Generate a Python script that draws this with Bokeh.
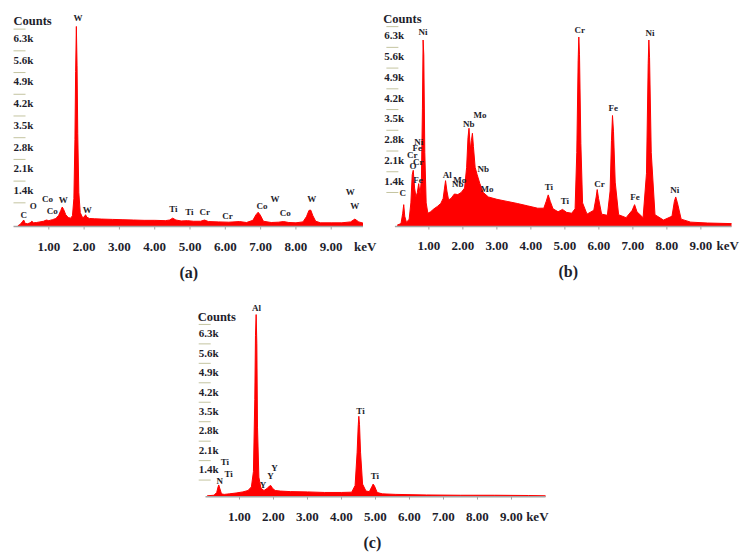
from bokeh.plotting import figure
from bokeh.models import FixedTicker, PrintfTickFormatter, Range1d, Spacer, Title
from bokeh.layouts import column, row
from bokeh.embed import file_html
from bokeh.resources import INLINE
from bokeh.core.properties import value

# ---------------- data ----------------
X_TICKS = [1, 2, 3, 4, 5, 6, 7, 8, 9]
X_UNIT = "keV"
Y_TICKS_K = [0.7, 1.4, 2.1, 2.8, 3.5, 4.2, 4.9, 5.6, 6.3]
Y_LABEL_VALUES = [1.4, 2.1, 2.8, 3.5, 4.2, 4.9, 5.6, 6.3]
Y_LABELS = ["1.4k", "2.1k", "2.8k", "3.5k", "4.2k", "4.9k", "5.6k", "6.3k"]
Y_TITLE = "Counts"

# panel (a): energy (keV) and counts (thousands)
energy_a = [0.12, 0.20, 0.26, 0.29, 0.33, 0.40, 0.47, 0.52, 0.57, 0.65,
            0.75, 0.85, 0.93, 1.00, 1.10, 1.20, 1.28, 1.34, 1.38, 1.42,
            1.48, 1.55, 1.62, 1.67, 1.71, 1.74, 1.76, 1.78, 1.80, 1.82,
            1.85, 1.89, 1.95, 2.00, 2.04, 2.08, 2.15, 2.3, 2.5, 2.8,
            3.1, 3.4, 3.7, 4.0, 4.3, 4.42, 4.51, 4.60, 4.75, 4.93,
            5.1, 5.3, 5.41, 5.52, 5.8, 6.1, 6.4, 6.6, 6.78, 6.87,
            6.93, 6.99, 7.08, 7.3, 7.5, 7.65, 7.8, 8.0, 8.2, 8.30,
            8.37, 8.42, 8.48, 8.56, 8.7, 9.0, 9.3, 9.55, 9.67, 9.78, 9.9]
counts_a = [0.02, 0.08, 0.17, 0.21, 0.10, 0.09, 0.12, 0.17, 0.12, 0.13,
            0.15, 0.17, 0.21, 0.19, 0.22, 0.26, 0.36, 0.52, 0.63, 0.55,
            0.38, 0.29, 0.27, 0.35, 0.9, 2.8, 5.0, 6.45, 5.2, 3.0,
            1.1, 0.45, 0.3, 0.3, 0.38, 0.3, 0.26, 0.25, 0.24, 0.23,
            0.22, 0.21, 0.2, 0.2, 0.19, 0.21, 0.27, 0.21, 0.18, 0.19,
            0.17, 0.17, 0.21, 0.16, 0.15, 0.14, 0.16, 0.13, 0.2, 0.38,
            0.46, 0.37, 0.17, 0.13, 0.14, 0.16, 0.13, 0.12, 0.15, 0.32,
            0.52, 0.53, 0.35, 0.17, 0.12, 0.12, 0.12, 0.15, 0.24, 0.15, 0.11]
peaks_a = ["C", "O", "Co", "Co", "W", "W", "W", "Ti", "Ti", "Cr", "Cr",
           "Co", "W", "Co", "W", "W", "W"]
peak_x_a = [0.29, 0.56, 0.96, 1.10, 1.41, 1.83, 2.09, 4.53, 4.98, 5.42, 6.06,
            7.04, 7.41, 7.70, 8.45, 9.54, 9.67]
peak_y_a = [0.37, 0.67, 0.90, 0.51, 0.85, 6.71, 0.54, 0.56, 0.46, 0.47, 0.35,
            0.67, 0.90, 0.43, 0.88, 1.10, 0.67]

# panel (b)
energy_b = [0.07, 0.18, 0.23, 0.26, 0.29, 0.34, 0.42, 0.47, 0.51, 0.54,
            0.58, 0.62, 0.66, 0.70, 0.74, 0.78, 0.81, 0.83, 0.85, 0.88,
            0.92, 0.97, 1.05, 1.15, 1.25, 1.35, 1.42, 1.46, 1.49, 1.53,
            1.58, 1.65, 1.75, 1.85, 1.95, 2.05, 2.11, 2.15, 2.18, 2.22,
            2.25, 2.28, 2.31, 2.36, 2.42, 2.50, 2.6, 2.75, 3.0, 3.3,
            3.6, 3.9, 4.2, 4.38, 4.45, 4.51, 4.57, 4.65, 4.8, 4.93,
            5.05, 5.2, 5.3, 5.35, 5.39, 5.41, 5.43, 5.47, 5.52, 5.65,
            5.85, 5.92, 5.95, 5.99, 6.08, 6.25, 6.33, 6.37, 6.40, 6.43,
            6.48, 6.58, 6.8, 6.98, 7.05, 7.12, 7.3, 7.40, 7.45, 7.47,
            7.49, 7.54, 7.65, 7.9, 8.15, 8.22, 8.26, 8.31, 8.42, 8.7,
            9.2, 9.9]
counts_b = [0.05, 0.1, 0.45, 0.74, 0.35, 0.14, 0.25, 0.8, 1.75, 1.9,
            1.3, 1.0, 1.15, 1.45, 1.1, 1.6, 4.0, 6.3, 5.8, 2.5,
            0.8, 0.45, 0.5, 0.6, 0.68, 0.78, 0.95, 1.3, 1.55, 1.2,
            0.9, 0.95, 1.1, 1.08, 1.15, 1.3, 2.0, 3.0, 3.32, 2.6,
            2.9, 3.15, 2.7, 2.0, 1.75, 1.45, 1.15, 1.0, 0.92, 0.85,
            0.78, 0.7, 0.62, 0.62, 0.85, 1.07, 0.85, 0.6, 0.5, 0.58,
            0.48, 0.45, 0.6, 2.5, 5.6, 6.4, 5.8, 2.8, 0.8, 0.42,
            0.55, 1.0, 1.25, 0.95, 0.42, 0.38, 1.2, 2.9, 3.75, 3.2,
            1.5, 0.4, 0.3, 0.55, 0.74, 0.5, 0.3, 1.8, 5.5, 6.3,
            5.7, 2.5, 0.4, 0.22, 0.35, 0.85, 1.0, 0.8, 0.25, 0.15,
            0.12, 0.1]
peaks_b = ["C", "O", "Cr", "Cr", "Fe", "Ni", "Fe", "Ni", "Al", "Mo", "Nb",
           "Nb", "Mo", "Nb", "Mo", "Ti", "Ti", "Cr", "Cr", "Fe", "Fe", "Ni", "Ni"]
peak_x_b = [0.23, 0.53, 0.51, 0.69, 0.66, 0.70, 0.68, 0.83, 1.54, 1.91, 1.85,
            2.17, 2.50, 2.60, 2.71, 4.53, 5.00, 5.44, 6.02, 6.42, 7.06, 7.50, 8.23]
peak_y_b = [1.12, 2.03, 2.43, 2.19, 2.64, 2.86, 1.56, 6.58, 1.73, 1.56, 1.43,
            3.46, 3.77, 1.95, 1.28, 1.34, 0.88, 6.64, 1.45, 4.01, 0.99, 6.53, 1.25]

# panel (c)
energy_c = [0.05, 0.25, 0.33, 0.37, 0.39, 0.42, 0.47, 0.55, 0.7, 0.9,
            1.1, 1.25, 1.35, 1.41, 1.45, 1.47, 1.49, 1.51, 1.53, 1.57,
            1.63, 1.72, 1.82, 1.88, 1.92, 1.97, 2.05, 2.2, 2.5, 3.0,
            3.5, 4.0, 4.3, 4.4, 4.46, 4.49, 4.51, 4.53, 4.56, 4.62,
            4.72, 4.82, 4.89, 4.93, 4.97, 5.05, 5.2, 5.6, 6.5, 7.5,
            8.5, 9.5, 10.0]
counts_c = [0.03, 0.05, 0.15, 0.35, 0.42, 0.3, 0.1, 0.08, 0.1, 0.13,
            0.17, 0.22, 0.35, 0.9, 3.5, 5.8, 6.55, 5.5, 2.5, 0.7,
            0.3, 0.22, 0.3, 0.38, 0.4, 0.3, 0.22, 0.2, 0.18, 0.17,
            0.15, 0.15, 0.16, 0.4, 1.6, 2.5, 2.89, 2.6, 1.6, 0.45,
            0.2, 0.18, 0.35, 0.45, 0.38, 0.15, 0.1, 0.08, 0.06, 0.05,
            0.05, 0.04, 0.03]
peaks_c = ["Al", "Ti", "Ti", "N", "Ti", "Ti", "Y", "Y", "Y"]
peak_x_c = [1.50, 4.56, 4.98, 0.42, 0.57, 0.68, 1.69, 1.91, 2.03]
peak_y_c = [6.78, 3.09, 0.74, 0.57, 1.24, 0.82, 0.43, 0.74, 1.03]

# ---------------- styling ----------------
FONT = "Liberation Serif"
INK = "#1e1e2c"
RED = "#ff0000"
TICK_COL = "#c4c4a0"
AXIS_COL = "#a4a4a4"


def make_panel(energy, counts, peaks, px, py, tag, st):
    W, H, fh = st["w"], st["h"], st["frame_h"]
    kev_px, k_px = st["kev_px"], st["k_px"]
    x0 = st["x_start"]
    y0 = -st["below_px"] / k_px
    p = figure(width=W, height=H, output_backend="svg", toolbar_location=None,
               y_axis_type=None,
               x_range=Range1d(x0, x0 + W / kev_px),
               y_range=Range1d(y0, y0 + fh / k_px),
               min_border_left=0, min_border_right=0, min_border_top=0,
               min_border_bottom=H - fh)
    p.outline_line_color = None
    p.grid.visible = False
    p.background_fill_color = "white"
    p.border_fill_color = "white"

    ax = p.xaxis[0]
    ax.ticker = FixedTicker(ticks=X_TICKS + [st["unit_at"]])
    ax.formatter = PrintfTickFormatter(format="%.2f")
    ax.major_label_overrides = {st["unit_at"]: X_UNIT}
    ax.axis_line_color = None
    ax.major_tick_line_color = None
    ax.minor_tick_line_color = None
    ax.major_label_standoff = st["standoff"]
    ax.major_label_text_font = FONT
    ax.major_label_text_font_style = "bold"
    ax.major_label_text_font_size = "13px"
    ax.major_label_text_color = INK

    # spectrum
    p.varea(x=energy, y1=0, y2=counts, fill_color=RED)
    p.line(x=energy, y=counts, line_color=RED, line_width=1)
    # axis base line and small tick notches
    p.line(x=[0, energy[-1]], y=[0, 0], line_color=AXIS_COL, line_width=1.5)
    p.segment(x0=X_TICKS, y0=[0] * len(X_TICKS), x1=X_TICKS,
              y1=[-3 / k_px] * len(X_TICKS), line_color=AXIS_COL, line_width=1)

    # y tick marks & labels
    shift = st["block_px"] / k_px
    tx = st["tick_x"]
    tlen = 12 / kev_px
    ty = [v + shift for v in Y_TICKS_K]
    p.segment(x0=[tx] * len(ty), y0=ty, x1=[tx + tlen] * len(ty), y1=ty,
              line_color=TICK_COL, line_width=1)
    ly = [v + shift - 9 / k_px for v in Y_LABEL_VALUES]
    p.text(x=[st["label_x"]] * len(ly), y=ly, text=Y_LABELS,
           text_font=value(FONT), text_font_style="bold", text_font_size="11px",
           text_color=INK, text_align="left", text_baseline="middle")
    p.text(x=[st["counts_x"]], y=[Y_LABEL_VALUES[-1] + shift + 8 / k_px], text=[Y_TITLE],
           text_font=value(FONT), text_font_style="bold", text_font_size="12.5px",
           text_color=INK, text_align="left", text_baseline="middle")

    # element labels
    p.text(x=px, y=py, text=peaks, text_font=value(FONT), text_font_style="bold",
           text_font_size="9px", text_color=INK, text_align="center",
           text_baseline="middle")

    p.add_layout(Title(text=tag, align="left", offset=st["tag_off"],
                       standoff=st["tag_standoff"], text_font=FONT,
                       text_font_style="bold", text_font_size="16px",
                       text_color=INK), "below")
    return p


style_a = dict(w=370, h=277, frame_h=224, kev_px=35.3, k_px=31.3, x_start=-0.142,
               below_px=4, block_px=2, tick_x=0.0, label_x=0.0, counts_x=0.0,
               unit_at=9.96, standoff=2, tag_off=171, tag_standoff=10)
style_b = dict(w=368, h=277, frame_h=226, kev_px=34.0, k_px=30.15, x_start=-0.482,
               below_px=4, block_px=13.6, tick_x=-0.25, label_x=-0.31, counts_x=-0.34,
               unit_at=9.79, standoff=1, tag_off=180, tag_standoff=10)
style_c = dict(w=370, h=270, frame_h=222, kev_px=34.0, k_px=28.7, x_start=-0.441,
               below_px=4, block_px=-3, tick_x=-0.2, label_x=-0.2, counts_x=-0.23,
               unit_at=9.76, standoff=2, tag_off=173, tag_standoff=10)

pa = make_panel(energy_a, counts_a, peaks_a, peak_x_a, peak_y_a, "(a)", style_a)
pb = make_panel(energy_b, counts_b, peaks_b, peak_x_b, peak_y_b, "(b)", style_b)
pc = make_panel(energy_c, counts_c, peaks_c, peak_x_c, peak_y_c, "(c)", style_c)

body = column(row(pa, pb), row(Spacer(width=182, height=270), pc))
layout = column(Spacer(width=746, height=8), row(Spacer(width=8, height=547), body))
open("out.html", "w").write(file_html(layout, INLINE))
